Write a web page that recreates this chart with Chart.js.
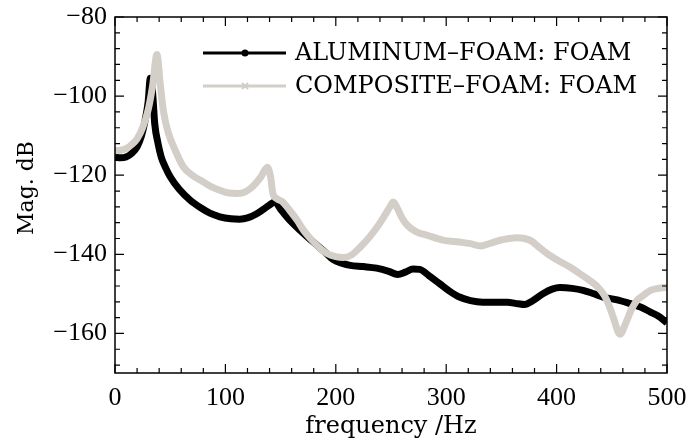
<!DOCTYPE html>
<html>
<head>
<meta charset="utf-8">
<script src="https://cdn.jsdelivr.net/npm/chart.js@4.4.0/dist/chart.umd.min.js"></script>
<style>
  html, body { margin: 0; padding: 0; background: #fff; }
  #wrap { width: 689px; height: 446px; }
</style>
</head>
<body>
<div id="wrap"><canvas id="grafico" width="689" height="446"></canvas></div>
<script>
// datos
const serieNombres = ["ALUMINUM\u2013FOAM: FOAM", "COMPOSITE\u2013FOAM: FOAM"];

const frecAlu = [0, 5, 10, 15, 20, 24, 27, 30, 32, 34, 36, 39, 42, 46, 50, 58, 68, 78, 86, 95,
  105, 113, 120, 128, 135, 140, 145, 150, 158, 168, 180, 190, 198, 206, 213, 225, 237, 248, 256, 263,
  270, 276, 284, 294, 303, 312, 322, 333, 345, 355, 365, 371, 378, 388, 396, 403, 414, 424, 433, 442,
  455, 466, 476, 485, 492, 500];
const magAlu = [-115.5, -115.6, -115.4, -114.5, -112.8, -110, -106.5, -101.5, -95.5, -99, -107, -112, -115.5, -118.2, -120.4, -123.5, -126.3, -128.3, -129.6, -130.5,
  -131, -131.1, -130.8, -129.8, -128.5, -127.5, -126.8, -128.6, -131.3, -134, -137, -139.4, -141.4, -142.3, -142.8, -143.1, -143.5, -144.3, -145.1, -144.5,
  -143.7, -143.8, -145.3, -147.4, -149.3, -150.8, -151.7, -152.1, -152.1, -152.1, -152.5, -152.7, -151.8, -149.9, -148.8, -148.4, -148.6, -149.1, -149.9, -150.8,
  -151.5, -152.4, -153.3, -154.6, -155.6, -157.3];

const frecComp = [0, 5, 10, 15, 20, 25, 30, 34, 38, 41, 44, 48, 55, 62, 70, 80, 88, 95, 103, 111,
  118, 125, 132, 138, 141, 143, 147, 152, 158, 165, 171, 177, 185, 192, 200, 207, 214, 222, 230, 237,
  244, 249, 252, 256, 260, 265, 273, 283, 297, 312, 322, 331, 340, 348, 357, 364, 371, 377, 385, 394,
  403, 412, 421, 430, 437, 443, 448, 452, 456, 458, 461, 464, 468, 473, 479, 485, 492, 500];
const magComp = [-113.8, -113.7, -113.3, -112.3, -110.8, -108, -103.5, -97.5, -89.5, -97, -104, -109, -114, -117.9, -120, -121.7, -123, -123.8, -124.5, -124.6,
  -124.2, -122.8, -120.5, -118, -120.5, -124.6, -126, -126.8, -128.8, -131.4, -134, -136, -138.3, -139.8, -140.6, -140.8, -140.2, -138.2, -135.8, -133.3,
  -130.3, -128, -126.8, -128.5, -130.8, -132.7, -134.3, -135.2, -136.4, -136.9, -137.3, -137.9, -137.2, -136.5, -136, -135.8, -136, -136.6, -138.4, -140.3,
  -141.8, -143.2, -144.9, -146.6, -148.2, -150.3, -153.3, -156.5, -159.8, -160.2, -158.5, -156.5, -153.8, -151.6, -150.3, -149.1, -148.6, -148.3];

const xEtiquetas = [0, 100, 200, 300, 400, 500];
const yEtiquetas = [-80, -100, -120, -140, -160];

const colorAlu = "#000000";
const colorComp = "#d3cfc8";
const fuenteNum = "'Liberation Serif', 'DejaVu Serif', serif";
const fuente = "'DejaVu Serif', 'Liberation Serif', serif";

function puntos(xs, ys) {
  return xs.map(function (x, i) { return { x: x, y: ys[i] }; });
}

function menos(v) {
  return v < 0 ? "\u2212" + Math.abs(v) : String(v);
}

// marco, marcas hacia adentro, titulo del eje y y leyenda
const marcoPlugin = {
  id: "marco",
  afterDraw: function (chart) {
    const ctx = chart.ctx;
    const a = chart.chartArea;
    const sx = chart.scales.x, sy = chart.scales.y;
    ctx.save();
    ctx.strokeStyle = "#000";
    ctx.lineWidth = 1.5;
    ctx.strokeRect(a.left, a.top, a.right - a.left, a.bottom - a.top);
    ctx.lineWidth = 1.2;
    ctx.beginPath();
    for (let v = sx.min; v <= sx.max; v += 20) {
      const px = sx.getPixelForValue(v);
      const len = (v % 100 === 0) ? 9 : 5;
      ctx.moveTo(px, a.bottom); ctx.lineTo(px, a.bottom - len);
      ctx.moveTo(px, a.top); ctx.lineTo(px, a.top + len);
    }
    for (let v = sy.max; v >= sy.min; v -= 4) {
      const py = sy.getPixelForValue(v);
      const len = (v % 20 === 0) ? 9 : 5;
      ctx.moveTo(a.left, py); ctx.lineTo(a.left + len, py);
      ctx.moveTo(a.right, py); ctx.lineTo(a.right - len, py);
    }
    ctx.stroke();

    // titulo eje y
    ctx.save();
    ctx.translate(27, 188);
    ctx.rotate(-Math.PI / 2);
    ctx.font = "22px " + fuente;
    ctx.fillStyle = "#000";
    ctx.textAlign = "center";
    ctx.textBaseline = "middle";
    ctx.fillText("Mag. dB", 0, 0);
    ctx.restore();

    // leyenda
    const filas = [
      { y: 53, color: colorAlu, forma: "circulo" },
      { y: 86, color: colorComp, forma: "cruz" }
    ];
    ctx.font = "24px " + fuente;
    ctx.textBaseline = "middle";
    filas.forEach(function (f, i) {
      ctx.strokeStyle = f.color;
      ctx.fillStyle = f.color;
      ctx.lineWidth = 3;
      ctx.beginPath();
      ctx.moveTo(203, f.y); ctx.lineTo(286, f.y);
      ctx.stroke();
      if (f.forma === "circulo") {
        ctx.beginPath();
        ctx.arc(245, f.y, 3.5, 0, Math.PI * 2);
        ctx.fill();
      } else {
        ctx.lineWidth = 2;
        ctx.beginPath();
        ctx.moveTo(242, f.y - 3); ctx.lineTo(248, f.y + 3);
        ctx.moveTo(248, f.y - 3); ctx.lineTo(242, f.y + 3);
        ctx.stroke();
      }
      ctx.fillStyle = "#000";
      ctx.fillText(serieNombres[i], 295, f.y + 1);
    });
    ctx.restore();
  }
};

const ctx = document.getElementById("grafico").getContext("2d");
new Chart(ctx, {
  type: "line",
  data: {
    datasets: [
      {
        label: serieNombres[1],
        data: puntos(frecComp, magComp),
        borderColor: colorComp,
        backgroundColor: colorComp,
        borderWidth: 7,
        pointRadius: 0,
        cubicInterpolationMode: "monotone"
      },
      {
        label: serieNombres[0],
        data: puntos(frecAlu, magAlu),
        borderColor: colorAlu,
        backgroundColor: colorAlu,
        borderWidth: 7,
        pointRadius: 0,
        cubicInterpolationMode: "monotone"
      }
    ]
  },
  options: {
    responsive: false,
    animation: false,
    layout: { padding: { top: 17, right: 22, left: 0, bottom: 0 } },
    plugins: {
      legend: { display: false },
      tooltip: { enabled: false }
    },
    scales: {
      x: {
        type: "linear",
        min: 0,
        max: 500,
        afterBuildTicks: function (s) { s.ticks = xEtiquetas.map(function (v) { return { value: v }; }); },
        afterFit: function (s) { s.height = 73; s.paddingLeft = 0; s.paddingRight = 0; },
        grid: { display: false, drawTicks: false },
        border: { display: false },
        ticks: {
          padding: 10,
          color: "#000",
          font: { family: fuenteNum, size: 26 },
          maxRotation: 0,
          callback: function (v) { return menos(v); }
        },
        title: {
          display: true,
          text: "frequency /Hz",
          color: "#000",
          font: { family: fuente, size: 24 },
          padding: { top: 0, bottom: 5 }
        }
      },
      y: {
        type: "linear",
        min: -170,
        max: -80,
        afterBuildTicks: function (s) { s.ticks = yEtiquetas.map(function (v) { return { value: v }; }); },
        afterFit: function (s) { s.width = 115; s.paddingTop = 0; s.paddingBottom = 0; },
        grid: { display: false, drawTicks: false },
        border: { display: false },
        ticks: {
          padding: 8,
          color: "#000",
          font: { family: fuenteNum, size: 26 },
          callback: function (v) { return menos(v); }
        }
      }
    }
  },
  plugins: [marcoPlugin]
});
</script>
</body>
</html>
